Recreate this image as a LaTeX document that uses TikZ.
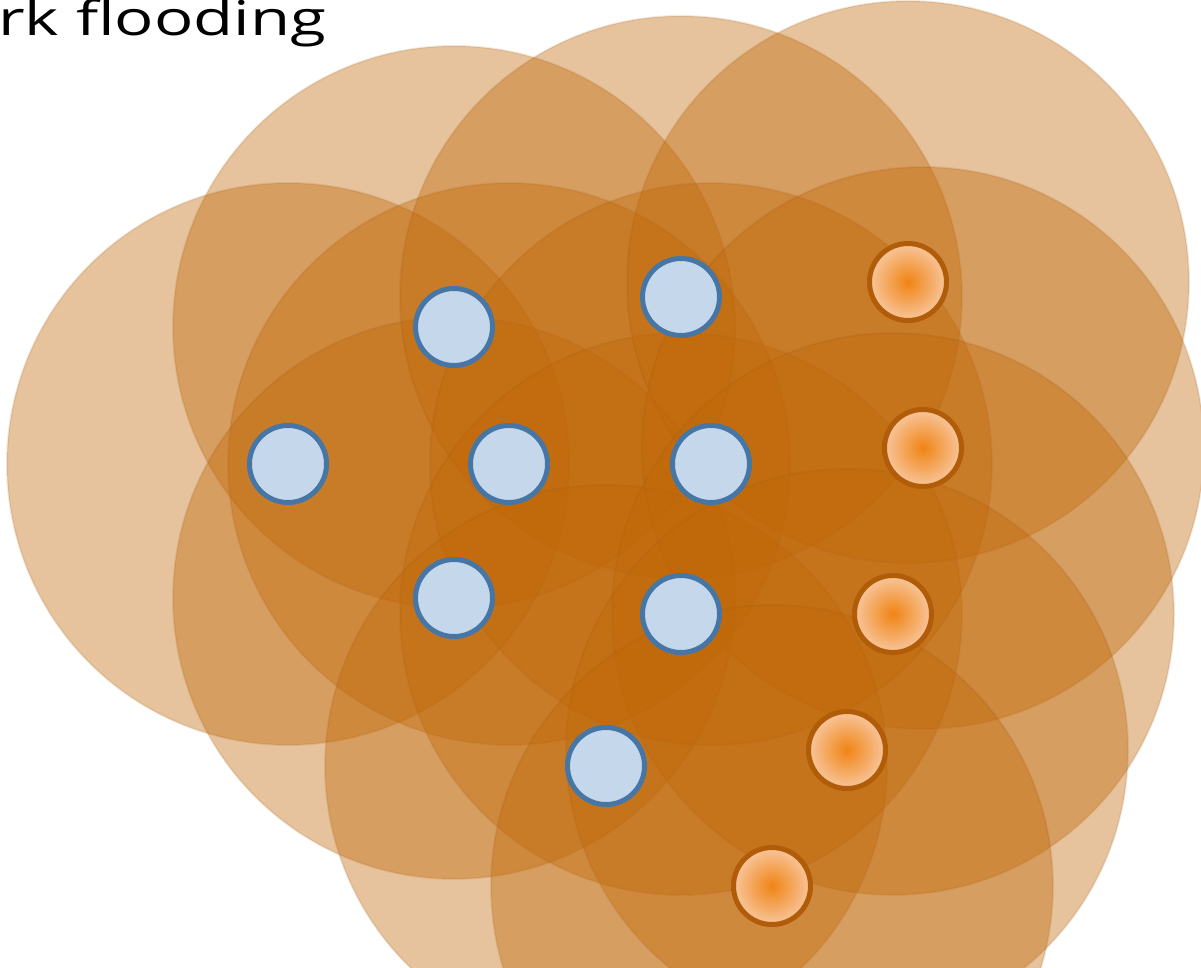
\documentclass[tikz,border=0pt]{standalone}
\usepackage{fontspec}
\setmainfont{Open Sans}
\newfontfamily\titlefont[FakeStretch=1.36]{Open Sans}
\definecolor{rangefill}{RGB}{192,104,8}
\definecolor{rangeedge}{RGB}{150,80,10}
\definecolor{plainfill}{RGB}{197,216,235}
\definecolor{plainborder}{RGB}{70,118,166}
\definecolor{hotborder}{RGB}{176,92,8}
\definecolor{hotcore}{RGB}{240,132,20}
\definecolor{hotmid}{RGB}{247,190,140}
\definecolor{hotrim}{RGB}{253,236,222}
\pgfdeclareradialshading{hotglow}{\pgfpoint{0bp}{0bp}}{%
  color(0bp)=(hotcore); color(22bp)=(hotmid); color(46bp)=(hotrim); color(50bp)=(hotrim)}
\tikzset{
  radiorange/.style={fill=rangefill, fill opacity=0.4, draw=rangeedge, draw opacity=0.12, line width=2pt},
  plain/.style={circle, minimum size=77pt, inner sep=0pt, fill=plainfill, draw=plainborder, line width=5pt},
  hot/.style={circle, minimum size=77pt, inner sep=0pt, shading=hotglow, draw=hotborder, line width=5pt},
}
\begin{document}
\begin{tikzpicture}[x=1pt,y=-1pt]
  \useasboundingbox (0,0) rectangle (1201,968);
  \clip (0,0) rectangle (1201,968);
  % node positions
  \foreach \n/\x/\y in {a/288/464, b/454/327, c/509/464, d/454/598, e/681/297,
      f/711/464, g/681/614, h/606/766, p/908/282, q/923/448, r/893/614, s/847/750, t/772/886}
    \coordinate (\n) at (\x,\y);
  % radio ranges
  \foreach \n in {a,b,c,d,e,f,g,h,p,q,r,s,t}
    \path[radiorange] (\n) circle[radius=281];
  % plain nodes
  \foreach \n in {a,b,c,d,e,f,g,h}
    \node[plain] (n\n) at (\n) {};
  % flooded nodes
  \foreach \n in {p,q,r,s,t}
    \node[hot] (n\n) at (\n) {};
  % title
  \node[anchor=base west, inner sep=0pt, font=\titlefont\fontsize{48}{58}\selectfont] (title) at (-2,36) {rk flooding};
\end{tikzpicture}
\end{document}
